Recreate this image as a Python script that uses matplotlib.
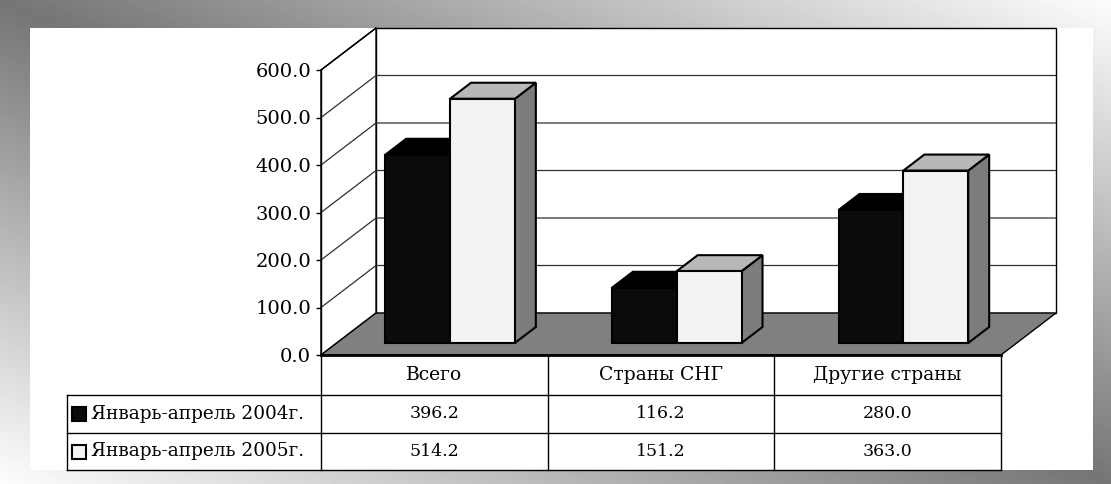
import numpy as np
import matplotlib
matplotlib.use("Agg")
import matplotlib.pyplot as plt
from matplotlib.patches import Polygon, Rectangle
from matplotlib.lines import Line2D
from matplotlib.transforms import IdentityTransform

# data
categories = ['Всего', 'Страны СНГ', 'Другие страны']
series_names = ['Январь-апрель 2004г.', 'Январь-апрель 2005г.']
values_2004 = [396.2, 116.2, 280.0]
values_2005 = [514.2, 151.2, 363.0]
y_ticks = [0, 100, 200, 300, 400, 500, 600]

plt.rcParams['font.family'] = ['DejaVu Serif']

W, H = 1111, 484
fig = plt.figure(figsize=(W / 100, H / 100), dpi=100)

# gradient frame in the background
bg = fig.add_axes([0, 0, 1, 1])
u = np.linspace(0, 1, 300)
v = np.linspace(0, 1, 150)
uu, vv = np.meshgrid(u, v)
grad = 0.46 + 0.53 * np.abs(uu - vv)
bg.imshow(grad, cmap='gray', vmin=0, vmax=1, extent=(0, W, H, 0), aspect='auto', interpolation='bilinear')
bg.add_patch(Rectangle((30, 28), 1063, 442, facecolor='white', edgecolor='none'))
bg.set_xlim(0, W)
bg.set_ylim(H, 0)
bg.axis('off')

# front plane of the chart
ax = fig.add_axes([321 / W, 129 / H, 680 / W, 285 / H])
ax.patch.set_visible(False)
ax.set_xlim(0, 3)
ax.set_ylim(0, 600)
ax.set_xticks([])
ax.set_yticks(y_ticks)
ax.set_yticklabels(['%.1f' % t for t in y_ticks], fontsize=14)
ax.tick_params(axis='y', length=3.6, width=1, pad=3.5)
for s in ['top', 'right', 'bottom']:
    ax.spines[s].set_visible(False)
ax.spines['left'].set_linewidth(1)

DX, DY = 55, 42  # depth offset in pixels
ID = IdentityTransform()


def P(x, val, z):
    px, py = ax.transData.transform((x, val))
    return (px + DX * z, py + DY * z)


def poly(pts, fc, ec='black', lw=1.0, z=2):
    ax.add_patch(Polygon(pts, closed=True, facecolor=fc, edgecolor=ec, linewidth=lw,
                         transform=ID, clip_on=False, zorder=z, joinstyle='miter'))


def line(pts, color='black', lw=1.0, z=2):
    xs = [p[0] for p in pts]
    ys = [p[1] for p in pts]
    ax.add_line(Line2D(xs, ys, color=color, linewidth=lw, transform=ID, clip_on=False, zorder=z))


# walls
poly([P(0, 0, 1), P(3, 0, 1), P(3, 600, 1), P(0, 600, 1)], 'white', z=1)
poly([P(0, 0, 0), P(0, 0, 1), P(0, 600, 1), P(0, 600, 0)], 'white', z=1)
for t in y_ticks[1:-1]:
    line([P(0, t, 0), P(0, t, 1), P(3, t, 1)], color='#303030', lw=0.9, z=1.5)
line([P(0, 600, 0), P(0, 600, 1)], z=1.5)

# floor
poly([P(0, 0, 0), P(3, 0, 0), P(3, 0, 1), P(0, 0, 1)], '#808080', lw=1.0, z=1.6)

# bars
bw = 0.286
z0, z1 = 0.286, 0.667
styles = [('#0b0b0b', '#000000', '#000000'), ('#f3f3f3', '#b8b8b8', '#7c7c7c')]
for i in range(len(categories)):
    for s, vals in enumerate([values_2004, values_2005]):
        val = vals[i]
        x0 = i + 0.5 - bw + s * bw
        x1 = x0 + bw
        front, top, side = styles[s]
        poly([P(x1, 0, z0), P(x1, 0, z1), P(x1, val, z1), P(x1, val, z0)], side, lw=1.5, z=3)
        poly([P(x0, val, z0), P(x1, val, z0), P(x1, val, z1), P(x0, val, z1)], top, lw=1.5, z=3)
        poly([P(x0, 0, z0), P(x1, 0, z0), P(x1, val, z0), P(x0, val, z0)], front, lw=1.5, z=3)

# front edge of floor
line([P(0, 0, 0), P(3, 0, 0)], lw=2, z=4)

# data table
top_y = P(0, 0, 0)[1]
row_y = [top_y, top_y - 40, top_y - 78, top_y - 115]
left_x = 67
col_x = [P(c, 0, 0)[0] for c in range(4)]
line([(col_x[0], row_y[0]), (col_x[0], row_y[3])], z=4)
for cx in col_x[1:]:
    line([(cx, row_y[0]), (cx, row_y[3])], lw=1, z=4)
for ry in row_y[1:]:
    line([(left_x, ry), (col_x[3], ry)], lw=1, z=4)
line([(left_x, row_y[1]), (left_x, row_y[3])], lw=1, z=4)

for c, name in enumerate(categories):
    cx = (col_x[c] + col_x[c + 1]) / 2
    ax.text(cx, (row_y[0] + row_y[1]) / 2, name, transform=ID, ha='center', va='center', fontsize=13.5)
    for r, vals in enumerate([values_2004, values_2005]):
        ax.text(cx, (row_y[r + 1] + row_y[r + 2]) / 2, '%.1f' % vals[c], transform=ID,
                ha='center', va='center', fontsize=12.5)

marker_fc = ['#0b0b0b', '#f3f3f3']
for r, name in enumerate(series_names):
    cy = (row_y[r + 1] + row_y[r + 2]) / 2
    ax.add_patch(Rectangle((72, cy - 7), 14, 14, facecolor=marker_fc[r], edgecolor='black',
                           linewidth=1.5, transform=ID, clip_on=False, zorder=4))
    ax.text(91, cy, name, transform=ID, ha='left', va='center', fontsize=13.3)

fig.savefig('out.png', dpi=100)
